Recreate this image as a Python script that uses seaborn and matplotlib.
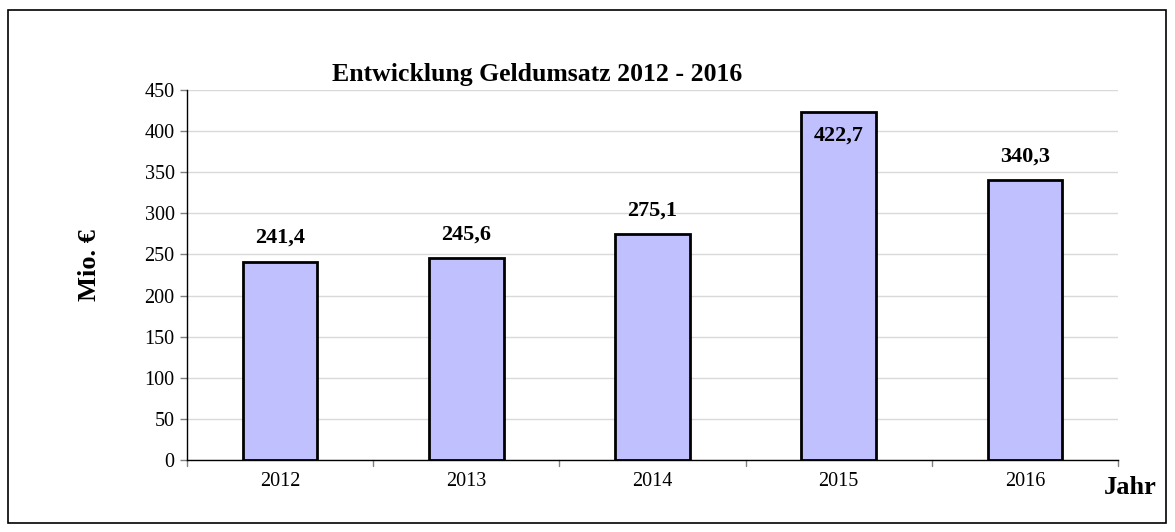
import matplotlib
matplotlib.use("Agg")
import matplotlib.pyplot as plt
import seaborn as sns
import pandas as pd
from matplotlib.patches import Rectangle

# Werte aus der Grafik
jahre = ["2012", "2013", "2014", "2015", "2016"]
umsatz = [241.4, 245.6, 275.1, 422.7, 340.3]
y_ticks = [0, 50, 100, 150, 200, 250, 300, 350, 400, 450]

df = pd.DataFrame({"jahr": jahre, "umsatz": umsatz})

sns.set_style("white")
plt.rcParams["font.family"] = ["Liberation Serif", "DejaVu Serif"]
plt.rcParams["text.color"] = "black"
plt.rcParams["xtick.labelcolor"] = "black"
plt.rcParams["ytick.labelcolor"] = "black"

fig = plt.figure(figsize=(11.75, 5.32), dpi=100)
ax = fig.add_axes([187 / 1175, 1 - 460 / 532, (1118 - 187) / 1175, 370 / 532])

sns.barplot(data=df, x="jahr", y="umsatz", color="#c0c0ff", saturation=1,
            edgecolor="black", linewidth=2, width=0.4, ax=ax)

ax.set_ylim(0, 450)
ax.set_xlim(-0.5, len(jahre) - 0.5)
ax.set_yticks(y_ticks)
ax.set_yticklabels([str(t) for t in y_ticks], fontsize=14.5)
ax.tick_params(axis="x", length=0, labelsize=14.5, pad=9, labelcolor="black")
ax.tick_params(axis="y", length=5, width=1, color="gray", direction="out",
               left=True, pad=4, labelcolor="black")
ax.yaxis.grid(True, color="#d9d9d9", linewidth=1)
ax.set_axisbelow(True)

# Tickstriche zwischen den Kategorien
for b in [i - 0.5 for i in range(len(jahre) + 1)]:
    ax.plot([b, b], [0, -0.016], transform=ax.get_xaxis_transform(),
            color="gray", linewidth=1, clip_on=False)

for s in ["top", "right"]:
    ax.spines[s].set_visible(False)
for s in ["left", "bottom"]:
    ax.spines[s].set_color("black")
    ax.spines[s].set_linewidth(1)

ax.set_xlabel("")
ax.set_ylabel("")

# Datenbeschriftung
for i, v in enumerate(umsatz):
    txt = f"{v:.1f}".replace(".", ",")
    off = -17 if v > 400 else 17
    ax.annotate(txt, (i, v), xytext=(0, off), textcoords="offset points",
                ha="center", va="center", fontsize=16, fontweight="bold",
                color="black")

fig.text(537 / 1175, 1 - 75 / 532, "Entwicklung Geldumsatz 2012 - 2016",
         ha="center", va="center", fontsize=18.5, fontweight="bold")
fig.text(90 / 1175, 1 - 265 / 532, "Mio. €", rotation=90,
         ha="center", va="center", fontsize=19, fontweight="bold")
fig.text(1130 / 1175, 1 - 488 / 532, "Jahr",
         ha="center", va="center", fontsize=19, fontweight="bold")

fig.patches.append(Rectangle((8 / 1175, 1 - 523 / 532), 1158 / 1175, 513 / 532,
                             transform=fig.transFigure, fill=False,
                             edgecolor="black", linewidth=1.2))

fig.savefig("out.png", dpi=100)
